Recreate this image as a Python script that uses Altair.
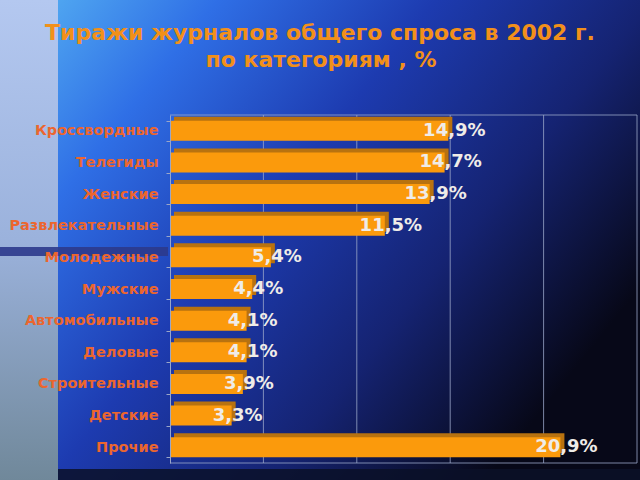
import altair as alt
import pandas as pd

categories = ["Кроссвордные", "Телегиды", "Женские", "Развлекательные", "Молодежные",
              "Мужские", "Автомобильные", "Деловые", "Строительные", "Детские", "Прочие"]
values = [14.9, 14.7, 13.9, 11.5, 5.4, 4.4, 4.1, 4.1, 3.9, 3.3, 20.9]
grid_values = [5, 10, 15, 20, 25]
title_lines = ["Тиражи журналов общего спроса в 2002 г.", "по категориям , %"]

W, H = 467, 348
PL, PT = 170, 115

df = pd.DataFrame({"cat": categories, "value": values})
df["label"] = [f"{v:.1f}".replace(".", ",") + "%" for v in values]
gdf = pd.DataFrame({"value": grid_values})
one = alt.Data(values=[{"a": 1}])

xscale = alt.Scale(domain=[0, 25], nice=False, zero=True)
yscale = alt.Scale(domain=categories, paddingInner=0.36, paddingOuter=0.18)

bg = alt.Chart(one).mark_rect(
    fill=alt.LinearGradient(gradient="linear", x1=0, y1=0, x2=1, y2=0.6,
                            stops=[alt.GradientStop(offset=0, color="#5ab8f4"),
                                   alt.GradientStop(offset=0.25, color="#2f6fe6"),
                                   alt.GradientStop(offset=0.5, color="#1d3bb0"),
                                   alt.GradientStop(offset=0.75, color="#152372"),
                                   alt.GradientStop(offset=1, color="#070818")])
).encode(x=alt.value(-PL), x2=alt.value(640 - PL), y=alt.value(-PT), y2=alt.value(480 - PT))

strip = alt.Chart(one).mark_rect(
    fill=alt.LinearGradient(gradient="linear", x1=0, y1=0, x2=0, y2=1,
                            stops=[alt.GradientStop(offset=0, color="#b4c8f0"),
                                   alt.GradientStop(offset=0.5, color="#9bb2dc"),
                                   alt.GradientStop(offset=1, color="#70889a")])
).encode(x=alt.value(-PL), x2=alt.value(58 - PL), y=alt.value(-PT), y2=alt.value(480 - PT))

bottom_dark = alt.Chart(one).mark_rect(color="#0b1028", opacity=0.85).encode(
    x=alt.value(58 - PL), x2=alt.value(640 - PL), y=alt.value(H + 6), y2=alt.value(480 - PT))

band = alt.Chart(one).mark_rect(color="#2c3a8c", opacity=0.9).encode(
    x=alt.value(-PL), x2=alt.value(-2), y=alt.value(132), y2=alt.value(141))

grid = alt.Chart(gdf).mark_rule(color="#9aa6c8", strokeWidth=1, opacity=0.8).encode(
    x=alt.X("value:Q", scale=xscale), y=alt.value(0), y2=alt.value(H))

top_line = alt.Chart(one).mark_rule(color="#9aa6c8", opacity=0.8).encode(
    x=alt.value(0), x2=alt.value(W), y=alt.value(0))
floor_line = alt.Chart(one).mark_rule(color="#9aa6c8", opacity=0.8).encode(
    x=alt.value(0), x2=alt.value(W), y=alt.value(H))

depth = alt.Chart(df).mark_bar(color="#b8720f", size=20, xOffset=4, yOffset=-4).encode(
    x=alt.X("value:Q", scale=xscale),
    y=alt.Y("cat:N", scale=yscale, sort=None))

bars = alt.Chart(df).mark_bar(color="#fb9a0c", size=20).encode(
    x=alt.X("value:Q", scale=xscale,
            axis=alt.Axis(title=None, labels=False, ticks=False, grid=False, domain=False)),
    y=alt.Y("cat:N", scale=yscale, sort=None,
            axis=alt.Axis(title=None, labelColor="#ec662e", labelFont="DejaVu Sans",
                          labelFontSize=14.5, labelFontWeight="bold", labelPadding=8,
                          tickColor="#9aa6c8", tickSize=4, domainColor="#9aa6c8",
                          ticks=True, grid=False, tickBand="extent", zindex=2)))

text = alt.Chart(df).mark_text(font="DejaVu Sans", fontSize=18, fontWeight="bold",
                               color="#efece8", align="center", baseline="middle", dx=6).encode(
    x=alt.X("value:Q", scale=xscale),
    y=alt.Y("cat:N", scale=yscale, sort=None),
    text="label:N")

title_style = dict(font="DejaVu Sans", fontSize=22, fontWeight="bold", color="#f2901a",
                   align="center", baseline="middle")
title1 = alt.Chart(alt.Data(values=[{"t": title_lines[0]}])).mark_text(**title_style).encode(
    x=alt.value(320 - PL), y=alt.value(33 - PT), text="t:N")
title2 = alt.Chart(alt.Data(values=[{"t": title_lines[1]}])).mark_text(**title_style).encode(
    x=alt.value(321 - PL), y=alt.value(60 - PT), text="t:N")

chart = alt.layer(bg, strip, bottom_dark, band, grid, top_line, floor_line, depth, bars, text,
                  title1, title2).properties(
    width=W, height=H,
    autosize=alt.AutoSizeParams(type="none"),
    padding={"left": PL, "top": PT, "right": 640 - PL - W, "bottom": 480 - PT - H},
    background="#0a1030"
).configure_view(stroke=None)

chart.save("out.html", embed_options={"renderer": "svg", "actions": False})
